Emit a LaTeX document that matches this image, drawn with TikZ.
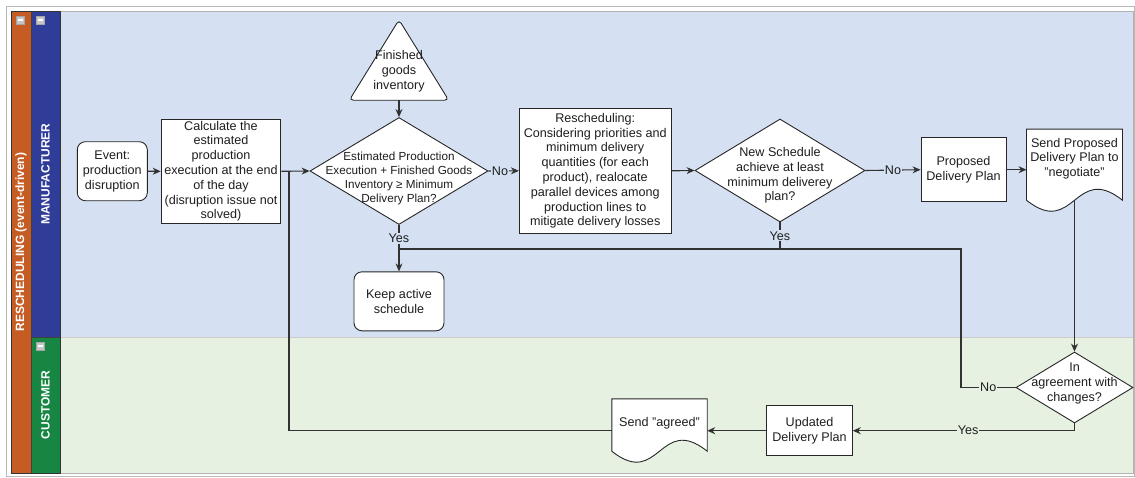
\documentclass[tikz,border=0pt]{standalone}
\usepackage{fontspec}
\setmainfont{Liberation Sans}
\usetikzlibrary{shapes.geometric,arrows.meta,calc}
\definecolor{orangeL}{RGB}{196,92,36}
\definecolor{blueL}{RGB}{47,60,152}
\definecolor{greenL}{RGB}{22,134,66}
\definecolor{blueBG}{RGB}{213,225,242}
\definecolor{greenBG}{RGB}{230,241,225}
\definecolor{linec}{RGB}{50,50,50}
\definecolor{txtc}{RGB}{30,30,30}
\newcommand\docpath[2]{\draw[shp] (#1.south west) -- (#1.north west) -- (#1.north east) -- (#1.south east) .. controls ($(#1.south)+(0,-#2)$) and ($(#1.south)+(0,#2)$) .. (#1.south west) -- cycle;}
\begin{document}
\begin{tikzpicture}[x=1pt,y=-1pt,
  txt/.style={font=\fontsize{12.6}{14.8}\selectfont, text=txtc, align=center, inner sep=0pt},
  shp/.style={draw=black!85, line width=0.9pt, fill=white},
  box/.style={shp, font=\fontsize{12.6}{14.8}\selectfont, text=txtc, align=center, inner sep=2pt},
  flow/.style={draw=linec, line width=1.1pt},
  arr/.style={flow, -{Stealth[length=8pt,width=7pt]}},
  lblB/.style={font=\fontsize{12.6}{14}\selectfont, text=txtc, fill=blueBG, inner sep=1pt},
  lblG/.style={font=\fontsize{12.6}{14}\selectfont, text=txtc, fill=greenBG, inner sep=1pt},
  lanetxt/.style={font=\fontsize{12}{14}\selectfont\bfseries, text=white, rotate=90},
  icon/.style={draw=gray!70, fill=gray!45, minimum size=8pt, inner sep=0pt,
    path picture={\fill[white] ([xshift=-2.5pt,yshift=-1pt]path picture bounding box.center) rectangle ([xshift=2.5pt,yshift=1pt]path picture bounding box.center);}}
]
\useasboundingbox (0,0) rectangle (1135,477);
% pool and lanes
\draw[gray!55, line width=0.8pt] (6.5,6.5) rectangle (1134.5,476);
\fill[orangeL] (11,11) rectangle (31,473);
\fill[blueL] (31,11) rectangle (60,337);
\fill[greenL] (31,337) rectangle (60,473);
\fill[blueBG] (60,11) rectangle (1133,337);
\fill[greenBG] (60,337) rectangle (1133,473);
\draw[gray!40, line width=0.6pt] (60,337) -- (1133,337);
\draw[gray!60, line width=0.6pt] (60,11) rectangle (1133,473);
\draw[black!75, line width=0.8pt] (31,337) -- (60,337);
\draw[black!75, line width=0.8pt] (31,11) -- (31,473);
\draw[black!80, line width=0.8pt] (11,11) rectangle (60,473);
\node[icon] (ic1) at (20,20) {};
\node[icon] (ic2) at (40,20) {};
\node[icon] (ic3) at (40,346) {};
\node[lanetxt] (pl) at (21,242) {RESCHEDULING (event-driven)};
\node[lanetxt] (ml) at (45.5,174) {MANUFACTURER};
\node[lanetxt] (cl) at (45.5,405) {CUSTOMER};
% nodes
\node[box, rounded corners=8pt, minimum width=70pt, minimum height=59pt] (ev) at (112.3,171.2) {Event:\\production\\disruption};
\node[box, minimum width=119.7pt, minimum height=104pt] (calc) at (221,171.3) {Calculate the\\estimated\\production\\execution at the end\\of the day\\(disruption issue not\\solved)};
\node[minimum width=99pt, minimum height=80pt, inner sep=0pt] (tri) at (399,60) {};
\draw[shp, rounded corners=4pt] (tri.south west) -- (tri.north) -- (tri.south east) -- cycle;
\node[txt] (trit) at (399,71.5) {Finished\\goods\\inventory};
\node[diamond, shp, minimum width=178pt, minimum height=107pt, inner sep=0pt] (d1) at (399,171) {};
\node[txt, font=\fontsize{11.7}{14}\selectfont] (d1t) at (399,178) {Estimated Production\\Execution + Finished Goods\\Inventory ≥ Minimum\\Delivery Plan?};
\node[box, minimum width=151.7pt, minimum height=125pt] (rs) at (595.2,170.8) {Rescheduling:\\Considering priorities and\\minimum delivery\\quantities (for each\\product), realocate\\parallel devices among\\production lines to\\mitigate delivery losses};
\node[diamond, shp, minimum width=170pt, minimum height=103pt, inner sep=0pt] (d2) at (780,170.5) {};
\node[txt] (d2t) at (780,175.5) {New Schedule\\achieve at least\\minimum deliverey\\plan?};
\node[box, minimum width=85pt, minimum height=64pt] (prop) at (963.5,169.7) {Proposed\\Delivery Plan};
\node[minimum width=95.6pt, minimum height=70.7pt, inner sep=0pt] (sp) at (1074.5,164.7) {};
\docpath{sp}{38}
\node[txt] (spt) at (1074.5,158.7) {Send Proposed\\Delivery Plan to\\"negotiate"};
\node[box, rounded corners=8pt, minimum width=90pt, minimum height=59pt] (keep) at (399,301.3) {Keep active\\schedule};
\node[diamond, shp, minimum width=117pt, minimum height=71pt, inner sep=0pt] (d3) at (1074.5,387.5) {};
\node[txt] (d3t) at (1074.5,383.5) {In\\agreement with\\changes?};
\node[box, minimum width=85.6pt, minimum height=50pt] (upd) at (809.5,430.7) {Updated\\Delivery Plan};
\node[minimum width=95pt, minimum height=52pt, inner sep=0pt] (sa) at (659.5,425) {};
\docpath{sa}{38}
\node[txt] (sat) at (659.5,423) {Send "agreed"};
% connectors
\coordinate (nojoin) at (961,249);
\coordinate (loopj) at (289,171.3);
\draw[arr] (ev.east) -- (calc.west);
\draw[arr] (calc.east) -- (d1.west);
\draw[arr] (tri.south) -- (d1.north);
\draw[arr] (d1.east) -- node[lblB, pos=0.38]{No} (rs.west);
\draw[arr] (rs.east) -- (d2.west);
\draw[arr] (d2.east) -- node[lblB]{No} (prop.west);
\draw[arr] (prop.east) -- (prop.east -| sp.west);
\draw[arr] (sp.south) -- (d3.north);
\draw[arr] (d1.south) -- node[lblB, pos=0.285]{Yes} (keep.north);
\draw[flow] (d2.south) -- node[lblB]{Yes} (d2.south |- nojoin);
\draw[flow] (d3.west) -- node[lblG]{No} (d3.west -| nojoin) -- (nojoin) -- (nojoin -| keep.north);
\draw[arr] (d3.south) |- node[lblG, pos=0.74]{Yes} (upd.east);
\draw[arr] (upd.west) -- (upd.west -| sa.east);
\draw[flow] (sa.west |- upd.west) -| (loopj);
\end{tikzpicture}
\end{document}
